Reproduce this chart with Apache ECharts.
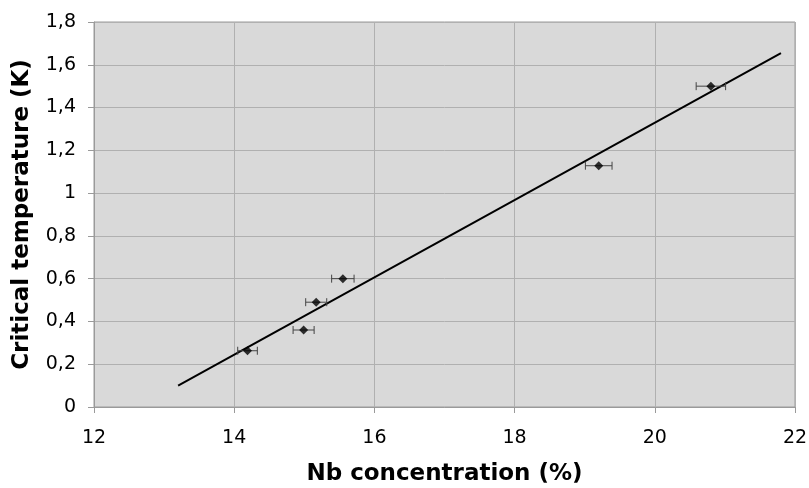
<!DOCTYPE html>
<html><head><meta charset="utf-8">
<script src="https://cdn.jsdelivr.net/npm/echarts@6/dist/echarts.min.js"></script>
<style>html,body{margin:0;padding:0;background:#fff}#c{width:809px;height:488px}</style>
</head><body><div id="c"></div>
<script>
const nbConc = [14.19, 14.99, 15.17, 15.55, 19.20, 20.80];
const critTemp = [0.263, 0.36, 0.49, 0.60, 1.128, 1.50];
const xErr = [0.14, 0.15, 0.15, 0.16, 0.19, 0.21];
const fitX = [13.2, 21.8];
const fitY = [0.10, 1.655];

const pts = nbConc.map((x,i)=>[x, critTemp[i]]);
const errData = nbConc.map((x,i)=>[x - xErr[i], x + xErr[i], critTemp[i]]);
const fitLine = fitX.map((x,i)=>[x, fitY[i]]);
const fmt = v => String(v).replace('.', ',');
const FONT = 'DejaVu Sans';

const chart = echarts.init(document.getElementById('c'), null, {renderer:'canvas'});
chart.setOption({
  animation:false,
  backgroundColor:'#ffffff',
  grid:{left:94, right:14, top:22, bottom:81, containLabel:false, outerBoundsMode:'none',
    show:true, backgroundColor:'#d9d9d9', borderColor:'#9a9a9a', borderWidth:1},
  xAxis:{type:'value', min:12, max:22, interval:2,
    name:'Nb concentration (%)', nameLocation:'middle', nameGap:56,
    nameTextStyle:{fontFamily:FONT, fontSize:23, fontWeight:'bold', color:'#000'},
    axisLine:{show:true, onZero:false, lineStyle:{color:'#9a9a9a'}},
    axisTick:{show:true, length:6, lineStyle:{color:'#9a9a9a'}},
    axisLabel:{fontFamily:FONT, fontSize:19, color:'#000', margin:22, formatter:fmt},
    splitLine:{show:true, lineStyle:{color:'#b0b0b0', width:1}}},
  yAxis:{type:'value', min:0, max:1.8, interval:0.2,
    name:'Critical temperature (K)', nameLocation:'middle', nameGap:60, nameRotate:90,
    nameTextStyle:{fontFamily:FONT, fontSize:23, fontWeight:'bold', color:'#000'},
    axisLine:{show:true, onZero:false, lineStyle:{color:'#9a9a9a'}},
    axisTick:{show:true, length:6, lineStyle:{color:'#9a9a9a'}},
    axisLabel:{fontFamily:FONT, fontSize:19, color:'#000', margin:18, formatter:v=>fmt(Math.round(v*10)/10)},
    splitLine:{show:true, lineStyle:{color:'#b0b0b0', width:1}}},
  series:[
    {type:'line', data:fitLine, showSymbol:false, symbol:'none', lineStyle:{color:'#000', width:2}, z:3},
    {type:'custom', data:errData, z:4,
      renderItem:function(params, api){
        const p1 = api.coord([api.value(0), api.value(2)]);
        const p2 = api.coord([api.value(1), api.value(2)]);
        const h = 4;
        const st = {stroke:'#444', lineWidth:1};
        return {type:'group', children:[
          {type:'line', shape:{x1:p1[0], y1:p1[1], x2:p2[0], y2:p2[1]}, style:st},
          {type:'line', shape:{x1:p1[0], y1:p1[1]-h, x2:p1[0], y2:p1[1]+h}, style:st},
          {type:'line', shape:{x1:p2[0], y1:p2[1]-h, x2:p2[0], y2:p2[1]+h}, style:st}
        ]};
      },
      encode:{x:[0,1], y:2}},
    {type:'scatter', data:pts, symbol:'diamond', symbolSize:9, itemStyle:{color:'#000'}, z:5}
  ]
});
</script></body></html>
